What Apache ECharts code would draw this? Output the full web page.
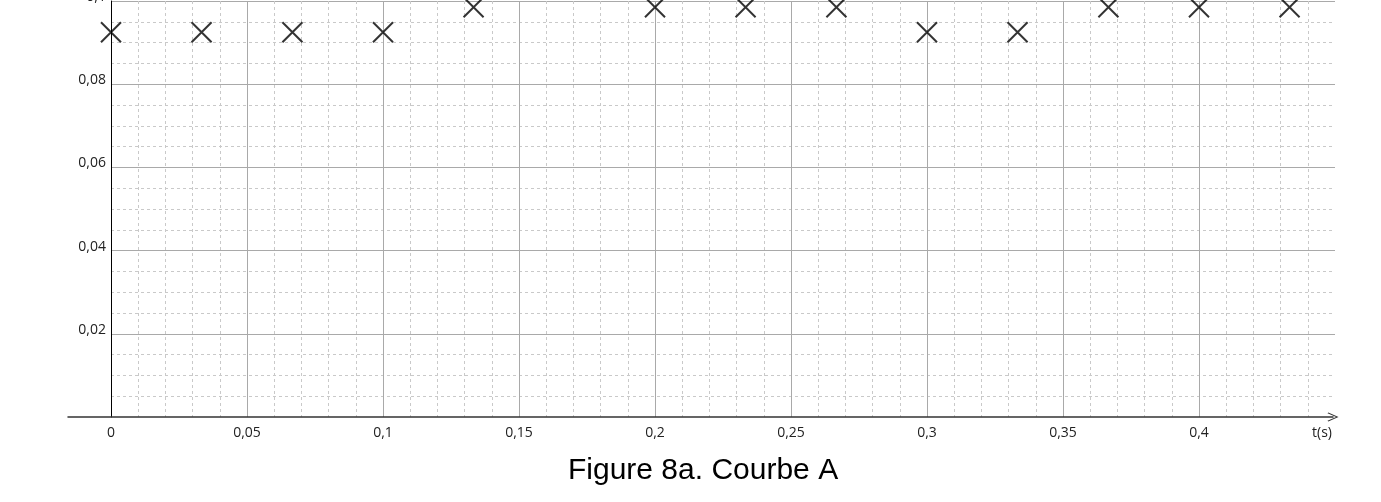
<!DOCTYPE html>
<html>
<head>
<meta charset="utf-8">
<script src="https://cdn.jsdelivr.net/npm/echarts@6/dist/echarts.min.js"></script>
<style>html,body{margin:0;padding:0;background:#fff}#c{width:1381px;height:502px}</style>
</head>
<body>
<div id="c"></div>
<script>
// Data
const timeValues = [0, 0.0333, 0.0667, 0.1, 0.1333, 0.2, 0.2333, 0.2667, 0.3, 0.3333, 0.3667, 0.4, 0.4333];
const yValues    = [0.0925, 0.0925, 0.0925, 0.0925, 0.0985, 0.0985, 0.0985, 0.0985, 0.0925, 0.0925, 0.0985, 0.0985, 0.0985];
const xTicks = { min: 0, max: 0.45, interval: 0.05 };
const yTicks = { min: 0, max: 0.1, interval: 0.02 };
const titleText = 'Figure 8a. Courbe A';
const xName = 't(s)';

const points = timeValues.map((t, i) => [t, yValues[i]]);
const fmt = v => String(+v.toFixed(4)).replace('.', ',');

const chart = echarts.init(document.getElementById('c'), null, { renderer: 'canvas' });
chart.setOption({
  animation: false,
  backgroundColor: '#fff',
  title: {
    text: titleText,
    left: 563,
    top: 451,
    textStyle: { fontFamily: 'Liberation Sans, Arial, sans-serif', fontSize: 30, fontWeight: 'normal', color: '#000' }
  },
  grid: [
    { left: 111, right: 46, top: 1, bottom: 85, containLabel: false, outerBoundsMode: 'none' },
    { left: 68, right: 48, top: 1, bottom: 85, containLabel: false, outerBoundsMode: 'none' }
  ],
  xAxis: [
    {
      type: 'value', gridIndex: 0,
      min: xTicks.min, max: xTicks.max, interval: xTicks.interval,
      axisLine: { show: false },
      axisTick: { show: false },
      axisLabel: {
        show: true, margin: 9, showMaxLabel: false, showMinLabel: true,
        fontFamily: 'Open Sans, sans-serif', fontSize: 14, color: '#222',
        formatter: fmt
      },
      splitLine: { show: true, showMinLine: false, showMaxLine: false, lineStyle: { color: '#a9a9a9', width: 1 } },
      minorTick: { show: false, splitNumber: 5 },
      minorSplitLine: { show: true, lineStyle: { color: '#c9c9c9', width: 1, type: [3, 3] } }
    },
    {
      type: 'value', gridIndex: 1, min: 0, max: 1,
      axisLine: {
        show: true, onZero: false,
        symbol: ['none', 'path://M45,0 L90,102 L82,110 L45,24 L8,110 L0,102 Z'],
        symbolSize: [9, 11],
        lineStyle: { color: '#333', width: 1.5 }
      },
      axisTick: { show: false },
      axisLabel: { show: false },
      splitLine: { show: false },
      name: xName,
      nameLocation: 'end',
      nameGap: -11,
      nameTextStyle: {
        fontFamily: 'Open Sans, sans-serif', fontSize: 14, color: '#222',
        align: 'center', verticalAlign: 'top', padding: [9, 0, 0, 0]
      }
    }
  ],
  yAxis: [
    {
      type: 'value', gridIndex: 0,
      min: yTicks.min, max: yTicks.max, interval: yTicks.interval,
      axisLine: { show: true, onZero: false, lineStyle: { color: '#000', width: 1 } },
      axisTick: { show: false },
      axisLabel: {
        show: true, margin: 5, showMinLabel: false, showMaxLabel: true,
        fontFamily: 'Open Sans, sans-serif', fontSize: 14, color: '#222',
        verticalAlign: 'bottom', padding: [0, 0, -3, 0],
        formatter: fmt
      },
      splitLine: { show: true, showMinLine: false, lineStyle: { color: '#a9a9a9', width: 1 } },
      minorTick: { show: false, splitNumber: 4 },
      minorSplitLine: { show: true, lineStyle: { color: '#c9c9c9', width: 1, type: [3, 3] } }
    },
    {
      type: 'value', gridIndex: 1, min: 0, max: 1,
      show: false
    }
  ],
  series: [
    {
      type: 'scatter',
      xAxisIndex: 0, yAxisIndex: 0,
      data: points,
      clip: false,
      symbol: 'path://M0,0 L10,10 M10,0 L0,10',
      symbolSize: 20,
      itemStyle: { color: 'rgba(0,0,0,0)', borderColor: '#000', borderWidth: 2 },
      emphasis: { disabled: true }
    }
  ]
});
</script>
</body>
</html>
